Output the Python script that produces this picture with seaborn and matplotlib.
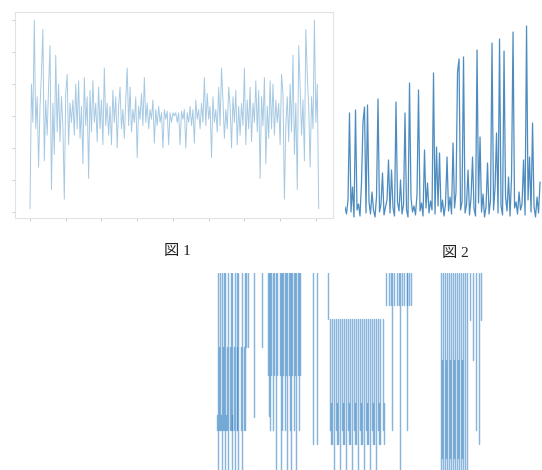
import numpy as np
import pandas as pd
import matplotlib
matplotlib.use("Agg")
import matplotlib.pyplot as plt
import seaborn as sns

sns.set_theme(style="white")
plt.rcParams['font.family'] = ['Liberation Serif', 'Noto Sans CJK JP', 'DejaVu Sans']

# ---------------- Figure 1: symmetric noisy signal ----------------
signal1 = [
    -2.9, 1.0, -0.2, 3.0, -0.4, 0.6, -1.6, 0.3, 1.3, 2.7,
    -1.4, 0.5, -0.6, 0.9, 2.2, -2.3, 0.4, -1.2, 1.9, -0.5,
    1.0, -0.8, 0.6, -0.3, -2.6, 0.7, 1.3, -0.9, 0.4, -0.2,
    0.5, -0.6, 1.0, -0.4, 1.1, -0.7, 0.3, -1.5, 1.2, -0.3,
    0.6, -1.95, 0.8, -0.5, 1.1, -0.2, 0.4, -0.8, 0.9, -0.4,
    0.5, -0.9, 1.5, -0.3, 0.4, -0.6, 0.3, -0.9, 0.8, -0.2,
    0.6, -1.0, 0.3, 0.9, -0.4, 0.2, -0.7, 0.5, 1.5, -0.3,
    0.9, -0.5, 0.2, -0.2, 0.6, -1.3, 0.3, -0.1, 0.7, -0.3,
    1.2, -0.2, 0.4, -0.4, 0.2, -0.1, 0.5, -0.85, 0.2, -0.3,
    0.3, -0.2, 0.1, -1.0, 0.2, -0.1, 0.15, -0.9, 0.1, -0.2,
    0.1, 0.0,
    0.1,
    -0.2, 0.1, -0.9, 0.15, -0.1, 0.2, -1.0, 0.1, -0.2, 0.3,
    -0.3, 0.2, -0.85, 0.5, -0.1, 0.2, -0.4, 0.4, -0.2, 1.2,
    -0.3, 0.7, -0.1, 0.3, -1.3, 0.6, -0.2, 0.2, -0.5, 0.9,
    -0.3, 1.5, 0.5, -0.7, 0.2, -0.4, 0.9, 0.3, -1.0, 0.6,
    -0.2, 0.8, -0.9, 0.3, -0.6, 0.4, -0.3, 1.5, -0.9, 0.5,
    -0.4, 0.9, -0.8, 0.4, -0.2, 1.1, -0.5, 0.8, -1.95, 0.6,
    -0.3, 1.2, -1.5, 0.3, -0.7, 1.1, -0.4, 1.0, -0.6, 0.5,
    -0.2, 0.4, -0.9, 1.3, 0.7, -2.6, -0.3, 0.6, -0.8, 1.0,
    -0.5, 1.9, -1.2, 0.4, -2.3, 2.2, 0.9, -0.6, 0.5, -1.4,
    2.7, 1.3, 0.3, -1.6, 0.6, -0.4, 3.0, -0.2, 1.0, -2.9,
]
x1 = np.arange(len(signal1)) * 2
x1_ticks = [0, 50, 100, 150, 200, 250, 300, 350, 400]
y1_ticks = [-3, -2, -1, 0, 1, 2, 3]

# ---------------- Figure 2: growing spikes ----------------
signal2 = [
    15, 8, 22, 109, 10, 35, 5, 112, 12, 18,
    6, 40, 100, 115, 9, 117, 20, 8, 30, 12,
    5, 25, 123, 10, 18, 49, 7, 15, 22, 62,
    9, 52, 14, 6, 120, 20, 11, 42, 8, 17,
    109, 12, 5, 139, 24, 10, 16, 7, 28, 132,
    11, 19, 6, 72, 14, 39, 9, 21, 12, 149,
    8, 75, 16, 69, 10, 22, 6, 18, 65, 11,
    25, 8, 79, 14, 30, 150, 163, 12, 20, 165,
    9, 17, 52, 7, 24, 65, 13, 6, 172, 19,
    85, 10, 28, 5, 15, 59, 8, 22, 179, 12,
    34, 89, 9, 183, 16, 7, 171, 25, 11, 45,
    6, 45, 190, 14, 20, 8, 30, 12, 18, 62,
    7, 196, 22, 65, 10, 99, 15, 5, 25, 9,
    40,
]
x2 = np.arange(len(signal2))

# ---------------- Figure 3: vertical segments ----------------
seg_x = [
    218, 222, 225, 228, 232, 235, 238, 242,
    220, 224, 231, 237, 245,
    246, 248,
    219, 223, 227, 230, 234, 237, 241, 244,
    217, 221, 226, 232,
    254, 262,
    268, 271, 274, 277, 280, 283, 286, 289, 292, 295, 298, 300,
    269, 270,
    276, 281, 287, 291, 296,
    273, 282, 285, 290, 294, 299,
    313, 317, 328,
    330, 336, 342, 348, 354, 360, 366, 372, 378, 383,
    332, 338, 344, 350, 356, 362, 368, 374, 380,
    334, 340, 346, 352, 358, 364, 370, 376,
    331, 337, 343, 349, 355, 361, 367, 373, 379, 384,
    386, 389, 391, 394, 397, 399, 402, 404, 407, 409, 411,
    392, 407, 400,
    441, 443, 445, 447, 449, 451, 453, 455, 457, 459, 461, 463, 465, 467,
    442, 446, 450, 454, 458, 462,
    470, 473, 476, 479, 481,
]
seg_top = (
    [196] * 8 + [196] * 5 + [196] * 2 + [122] * 8 + [55] * 4 + [196, 196]
    + [196] * 12 + [196, 196] + [196] * 5 + [196] * 6
    + [196, 196, 196]
    + [150] * 10 + [150] * 9 + [150] * 8 + [67] * 10
    + [196] * 11 + [196] * 3
    + [196] * 14 + [109] * 6 + [196] * 5
)
seg_bottom = (
    [-5] * 8 + [40] * 5 + [122] * 2 + [40] * 8 + [40] * 4 + [53, 122]
    + [95] * 12 + [54, 40] + [-5] * 5 + [40] * 6
    + [26, 26, 150]
    + [40] * 10 + [26] * 9 + [-5] * 8 + [26] * 10
    + [164] * 11 + [40, 40, -5]
    + [-5] * 14 + [12] * 6 + [149, 109, 40, 26, 149]
)

rows = []
for k, (sx, st, sb) in enumerate(zip(seg_x, seg_top, seg_bottom)):
    rows.append({"id": k, "x": sx, "y": st})
    rows.append({"id": k, "x": sx, "y": sb})
df3 = pd.DataFrame(rows)

W, H = 542, 470
fig = plt.figure(figsize=(W / 100, H / 100), dpi=100)
fig.patch.set_facecolor("white")

def frac(x0, y0, x1p, y1p):
    return [x0 / W, 1 - y1p / H, (x1p - x0) / W, (y1p - y0) / H]

# Panel 1
ax1 = fig.add_axes(frac(15, 12, 333, 218))
sns.lineplot(x=x1, y=signal1, ax=ax1, color="#a6c9e3", linewidth=0.7)
ax1.set_xlim(-21, 424)
ax1.set_ylim(-3.19, 3.25)
ax1.set_xticks(x1_ticks)
ax1.set_yticks(y1_ticks)
ax1.set_xticklabels([])
ax1.set_yticklabels([])
ax1.tick_params(axis="both", length=2.5, width=0.6, color="#c8c8c8",
                bottom=True, left=True)
for sp in ax1.spines.values():
    sp.set_color("#e2e2e2")
    sp.set_linewidth(0.8)

# Panel 2
ax2 = fig.add_axes(frac(345, 20, 542, 222))
sns.lineplot(x=x2, y=signal2, ax=ax2, color="#2f78b5", linewidth=0.9, alpha=0.85)
ax2.set_xlim(0, 131.3)
ax2.set_ylim(0, 202)
ax2.axis("off")

# Panel 3
ax3 = fig.add_axes(frac(215, 273, 485, 470))
sns.lineplot(data=df3, x="x", y="y", units="id", estimator=None, sort=False,
             ax=ax3, color="#3a85c5", linewidth=1.05, alpha=0.6, legend=False)
ax3.set_xlim(215, 485)
ax3.set_ylim(0, 196)
ax3.axis("off")

# Captions
fig.text(177 / W, 1 - 252 / H, "図 1", ha="center", va="center", fontsize=11, color="#222222")
fig.text(455 / W, 1 - 253 / H, "図 2", ha="center", va="center", fontsize=11, color="#222222")

fig.savefig("out.png", dpi=100, facecolor="white")
